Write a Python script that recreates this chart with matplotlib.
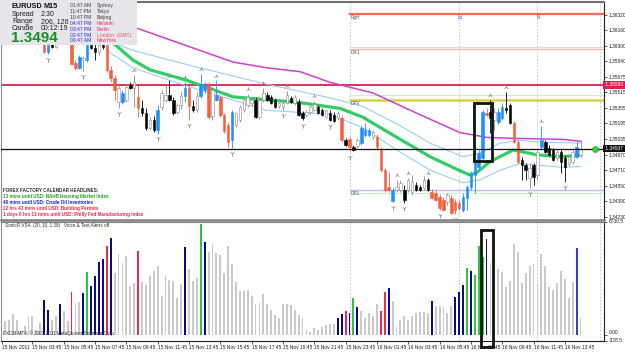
import matplotlib
matplotlib.use("Agg")
import matplotlib.pyplot as plt
from matplotlib.patches import Rectangle
import matplotlib.transforms as mtransforms

# ---------------- DATA ----------------
opens = [1.3621, 1.3618, 1.3614, 1.3619, 1.3621, 1.3620, 1.3616, 1.3610, 1.3614, 1.3612,
         1.3606, 1.3593, 1.3602, 1.3599, 1.3606, 1.3616, 1.3611, 1.3608, 1.3582, 1.3577,
         1.3585, 1.3585, 1.3601, 1.3598, 1.3593, 1.3601, 1.3601, 1.3575, 1.3566, 1.3542,
         1.3542, 1.3544, 1.3559, 1.3556, 1.3547, 1.3535, 1.3530, 1.3515, 1.3523, 1.3513,
         1.3536, 1.3544, 1.3549, 1.3544, 1.3531, 1.3539, 1.3548, 1.3556, 1.3537, 1.3533,
         1.3548, 1.3554, 1.3559, 1.3527, 1.3544, 1.3547, 1.3528, 1.3518, 1.3502, 1.3518,
         1.3523, 1.3533, 1.3539, 1.3541, 1.3544, 1.3526, 1.3544, 1.3549, 1.3547, 1.3544,
         1.3538, 1.3536, 1.3541, 1.3546, 1.3541, 1.3542, 1.3530, 1.3528, 1.3531, 1.3533,
         1.3536, 1.3533, 1.3526, 1.3530, 1.3528, 1.3525, 1.3525, 1.3502, 1.3503, 1.3495,
         1.3496, 1.3499, 1.3508, 1.3508, 1.3505, 1.3505, 1.3492, 1.3471, 1.3454, 1.3439,
         1.3451, 1.3451, 1.3451, 1.3451, 1.3449, 1.3456, 1.3454, 1.3453, 1.3461, 1.3449,
         1.3448, 1.3443, 1.3440, 1.3438, 1.3442, 1.3438, 1.3437, 1.3430, 1.3442, 1.3454,
         1.3466, 1.3474, 1.3484, 1.3530, 1.3531, 1.3523, 1.3521, 1.3525, 1.3535, 1.3539,
         1.3520, 1.3500, 1.3482, 1.3476, 1.3463, 1.3476, 1.3466, 1.3495, 1.3500, 1.3494,
         1.3492, 1.3484, 1.3490, 1.3484, 1.3477, 1.3480, 1.3485, 1.3487]
highs = [1.3627, 1.3624, 1.3621, 1.3624, 1.3627, 1.3624, 1.3621, 1.3616, 1.3618, 1.3616,
         1.3610, 1.3608, 1.3606, 1.3608, 1.3618, 1.3620, 1.3616, 1.3611, 1.3585, 1.3590,
         1.3589, 1.3604, 1.3606, 1.3604, 1.3606, 1.3608, 1.3606, 1.3579, 1.3570, 1.3558,
         1.3554, 1.3560, 1.3562, 1.3570, 1.3559, 1.3544, 1.3535, 1.3526, 1.3527, 1.3539,
         1.3554, 1.3559, 1.3564, 1.3547, 1.3541, 1.3552, 1.3562, 1.3558, 1.3544, 1.3552,
         1.3571, 1.3562, 1.3562, 1.3557, 1.3564, 1.3549, 1.3530, 1.3521, 1.3533, 1.3531,
         1.3539, 1.3546, 1.3550, 1.3546, 1.3547, 1.3546, 1.3556, 1.3552, 1.3549, 1.3546,
         1.3542, 1.3542, 1.3553, 1.3548, 1.3549, 1.3545, 1.3532, 1.3533, 1.3539, 1.3543,
         1.3539, 1.3535, 1.3534, 1.3533, 1.3531, 1.3532, 1.3528, 1.3504, 1.3505, 1.3497,
         1.3504, 1.3517, 1.3520, 1.3515, 1.3513, 1.3509, 1.3495, 1.3473, 1.3469, 1.3453,
         1.3461, 1.3461, 1.3456, 1.3463, 1.3466, 1.3459, 1.3456, 1.3465, 1.3463, 1.3452,
         1.3451, 1.3446, 1.3443, 1.3447, 1.3445, 1.3441, 1.3440, 1.3447, 1.3456, 1.3470,
         1.3482, 1.3492, 1.3533, 1.3535, 1.3544, 1.3535, 1.3535, 1.3541, 1.3552, 1.3541,
         1.3522, 1.3502, 1.3485, 1.3479, 1.3479, 1.3479, 1.3492, 1.3517, 1.3502, 1.3497,
         1.3494, 1.3492, 1.3494, 1.3487, 1.3487, 1.3492, 1.3500, 1.3502]
lows = [1.3616, 1.3611, 1.3610, 1.3616, 1.3618, 1.3614, 1.3608, 1.3606, 1.3610, 1.3604,
        1.3592, 1.3591, 1.3598, 1.3598, 1.3604, 1.3608, 1.3604, 1.3580, 1.3575, 1.3576,
        1.3574, 1.3583, 1.3596, 1.3585, 1.3590, 1.3596, 1.3573, 1.3562, 1.3544, 1.3535,
        1.3540, 1.3542, 1.3555, 1.3536, 1.3526, 1.3527, 1.3513, 1.3514, 1.3511, 1.3509,
        1.3533, 1.3542, 1.3543, 1.3528, 1.3529, 1.3534, 1.3542, 1.3523, 1.3531, 1.3531,
        1.3546, 1.3551, 1.3524, 1.3523, 1.3543, 1.3526, 1.3510, 1.3495, 1.3494, 1.3516,
        1.3521, 1.3531, 1.3536, 1.3538, 1.3525, 1.3524, 1.3542, 1.3543, 1.3540, 1.3535,
        1.3535, 1.3533, 1.3540, 1.3541, 1.3539, 1.3527, 1.3523, 1.3526, 1.3529, 1.3532,
        1.3529, 1.3527, 1.3525, 1.3522, 1.3521, 1.3523, 1.3500, 1.3496, 1.3490, 1.3491,
        1.3494, 1.3497, 1.3505, 1.3505, 1.3503, 1.3492, 1.3469, 1.3449, 1.3449, 1.3438,
        1.3449, 1.3449, 1.3437, 1.3449, 1.3445, 1.3450, 1.3450, 1.3451, 1.3450, 1.3441,
        1.3439, 1.3430, 1.3429, 1.3435, 1.3426, 1.3426, 1.3430, 1.3428, 1.3430, 1.3451,
        1.3448, 1.3471, 1.3482, 1.3527, 1.3510, 1.3513, 1.3519, 1.3523, 1.3530, 1.3519,
        1.3499, 1.3479, 1.3461, 1.3461, 1.3453, 1.3456, 1.3461, 1.3493, 1.3489, 1.3486,
        1.3481, 1.3482, 1.3468, 1.3459, 1.3475, 1.3477, 1.3484, 1.3485]
closes = [1.3618, 1.3614, 1.3619, 1.3621, 1.3620, 1.3616, 1.3610, 1.3614, 1.3612, 1.3606,
          1.3593, 1.3604, 1.3599, 1.3606, 1.3616, 1.3611, 1.3608, 1.3581, 1.3577, 1.3588,
          1.3587, 1.3601, 1.3598, 1.3593, 1.3601, 1.3599, 1.3575, 1.3566, 1.3554, 1.3556,
          1.3551, 1.3557, 1.3556, 1.3562, 1.3535, 1.3530, 1.3515, 1.3523, 1.3513, 1.3533,
          1.3551, 1.3549, 1.3544, 1.3530, 1.3539, 1.3548, 1.3556, 1.3537, 1.3533, 1.3548,
          1.3560, 1.3559, 1.3526, 1.3554, 1.3549, 1.3528, 1.3512, 1.3500, 1.3531, 1.3530,
          1.3536, 1.3544, 1.3547, 1.3544, 1.3526, 1.3544, 1.3551, 1.3544, 1.3541, 1.3536,
          1.3541, 1.3541, 1.3549, 1.3542, 1.3547, 1.3528, 1.3525, 1.3531, 1.3536, 1.3540,
          1.3530, 1.3528, 1.3533, 1.3523, 1.3522, 1.3530, 1.3502, 1.3497, 1.3495, 1.3492,
          1.3502, 1.3515, 1.3513, 1.3513, 1.3511, 1.3495, 1.3471, 1.3451, 1.3451, 1.3451,
          1.3454, 1.3458, 1.3440, 1.3461, 1.3459, 1.3451, 1.3451, 1.3461, 1.3451, 1.3442,
          1.3440, 1.3432, 1.3430, 1.3445, 1.3427, 1.3430, 1.3432, 1.3443, 1.3454, 1.3468,
          1.3480, 1.3489, 1.3531, 1.3528, 1.3525, 1.3531, 1.3531, 1.3536, 1.3533, 1.3520,
          1.3500, 1.3480, 1.3476, 1.3471, 1.3473, 1.3464, 1.3490, 1.3502, 1.3490, 1.3487,
          1.3482, 1.3490, 1.3480, 1.3474, 1.3485, 1.3490, 1.3495, 1.3493]
# candle style: k=black (bear), w=white (bull), b=blue (wide bull), r=red (wide bear)
candle_kind = list("kkwwkkkwkk" "rbkwbkkrrb" "wbkkwkrrrw" "bwkwrkkwkb" "wwkkwwbrkw"
                   "bbrwbrrrbw" "wwwwkwwkkk" "wwwkwkkwww" "kkwkkwrkrk" "wbbbwrrrrb"
                   "wwkwwkkwkr" "rrrwrrrbbb" "bbbrkwbbkk" "rrkkwkwbkk" "kwkkwwbw")

fractal_up = [33, 42, 46, 50, 54, 62, 66, 72, 79, 92, 100, 103, 108, 124, 128, 137]
fractal_dn = [11, 20, 29, 39, 47, 58, 71, 76, 83, 88, 99, 102, 111, 115, 134, 143]

# moving averages read at sample bars
ma_slow_x = [14, 24.3, 33.7, 49.8, 58.2, 66.9, 75.4, 83, 94, 105.2, 116.2, 123.1, 129.8, 142.5, 146.9]
ma_slow_y = [1.3645, 1.3632, 1.3618, 1.3595, 1.3583, 1.3577, 1.3573, 1.3562, 1.3551, 1.3530,
             1.3510, 1.3505, 1.3504, 1.3503, 1.3501]
ma_mid_x = [22, 28.1, 32.7, 37, 46.5, 58.2, 66.9, 75.4, 85.6, 91.4, 100.1, 108.6, 114.9, 118.8,
            120.6, 123.9, 129.8, 135.9, 142.5, 146.9]
ma_mid_y = [1.3616, 1.3601, 1.3585, 1.3575, 1.3564, 1.3547, 1.3544, 1.3541, 1.3535, 1.3526,
            1.3505, 1.3485, 1.3473, 1.3466, 1.3469, 1.3480, 1.3492, 1.3487, 1.3485, 1.3487]
band_up_x = [24.3, 32.7, 42.1, 49.8, 66.9, 83, 91.4, 100.1, 108.6, 117, 121.3, 126.4, 131.5, 137.4, 146.9]
band_up_y = [1.3608, 1.3595, 1.3585, 1.3577, 1.3560, 1.3546, 1.3537, 1.3519, 1.3499, 1.3485,
             1.3489, 1.3499, 1.3502, 1.3500, 1.3499]
band_dn_x = [26, 32.7, 42.1, 49.8, 66.9, 83, 91.4, 100.1, 108.6, 117, 121.3, 126.4, 131.5, 142.5, 146.9]
band_dn_y = [1.3595, 1.3577, 1.3564, 1.3554, 1.3533, 1.3529, 1.3515, 1.3492, 1.3471, 1.3458,
             1.3461, 1.3471, 1.3478, 1.3474, 1.3475]

# horizontal levels
level_rgh = 1.36327
level_dr1 = 1.35965
level_red = 1.35593
level_green_hi = 1.35489
level_dpv = 1.35440
level_close = 1.34933
level_ds1 = 1.34506
level_green_lo = 1.34475
session_bars = [88, 116, 136, 152]     # day start, London, NY, later
current_bar_dot = 150.7

highlight_bars = (119.8, 124.4)
highlight_price = (1.3481, 1.3541)
vsa_highlight_bars = (121.6, 124.7)

# volume (SonicR VSA)
vsa_values = [800, 895, 1236, 895, 221, 519, 1116, 1116, 299, 698,
              2054, 1493, 895, 1116, 1851, 1415, 818, 2549, 1892, 1934,
              2489, 3725, 2889, 3486, 4322, 4478, 5277, 5773, 3683, 4776,
              4280, 4680, 2925, 3086, 4979, 3128, 2985, 3522, 3785, 4083,
              2292, 3486, 3284, 3224, 2191, 3045, 5218, 3922, 3224, 3385,
              6567, 5516, 4919, 5373, 4877, 4740, 3683, 5277, 4239, 3128,
              2591, 2591, 2651, 2328, 1851, 1892, 2430, 1851, 1457, 1194,
              997, 1833, 1833, 1791, 1493, 1194, 997, 299, 203, 400,
              299, 501, 597, 639, 639, 997, 1254, 1433, 1295, 2191,
              1654, 1397, 997, 1295, 1098, 1851, 1415, 2531, 2770, 1994,
              501, 895, 1098, 895, 1098, 1295, 1355, 1355, 1295, 1994,
              1731, 1695, 1636, 1295, 1695, 2251, 2531, 2985, 3982, 3785,
              3582, 5277, 4650, 5672, 4280, 3982, 3922, 3725, 2848, 3188,
              5373, 4919, 3086, 3683, 4083, 4221, 3027, 4776, 4119, 2848,
              2687, 3086, 3785, 3325, 2191, 3128, 5176, 997]
vsa_kind = list("gggggggggg" "nnggnggrgg" "nGnnnnrngg" "ggggrggggg" "ggggggnggg"
                "Gngggggggg" "gggggggggg" "gggggggggg" "gggggnnrnG" "ngggggrrng"
                "gggggggggn" "gggggnnnGn" "GGGngggggg" "gggggggggg" "ggggggbg")

price_ticks = [1.36320, 1.36160, 1.36000, 1.35840, 1.35675, 1.35515, 1.35355, 1.35195,
               1.35035, 1.34870, 1.34710, 1.34550, 1.34390, 1.34230]
time_tick_bars = [-0.8] + [7 + 8 * j for j in range(18)]
time_labels = ["15 Nov 2011", "15 Nov 03:45", "15 Nov 05:45", "15 Nov 07:45", "15 Nov 09:45",
               "15 Nov 11:45", "15 Nov 13:45", "15 Nov 15:45", "15 Nov 17:45", "15 Nov 19:45",
               "15 Nov 21:45", "15 Nov 23:45", "16 Nov 01:45", "16 Nov 03:45", "16 Nov 05:45",
               "16 Nov 07:45", "16 Nov 09:45", "16 Nov 11:45", "16 Nov 13:45"]

news_lines = [("13 mins until USD: NAHB Housing Market Index", "#22A022"),
              ("40 mins until USD: Crude Oil Inventories", "#1C1CE0"),
              ("22 hrs 43 mins until USD: Building Permits", "#F02848"),
              ("1 days 0 hrs 13 mins until USD: Philly Fed Manufacturing Index", "#F02848")]
clock_rows = [("01:47 AM", "Sydney", "#404040", "#404040"),
              ("11:47 PM", "Tokyo", "#404040", "#404040"),
              ("10:47 PM", "Beijing", "#404040", "#404040"),
              ("04:47 PM", "Helsinki", "#3030D0", "#F03060"),
              ("03:47 PM", "Berlin", "#3030D0", "#F03060"),
              ("02:47 PM", "London  (GMT)", "#3030D0", "#F05060"),
              ("09:47 AM", "NewYork", "#3030D0", "#F03060")]

# ---------------- FIGURE ----------------
W, H = 625, 352
FONT = "Liberation Sans"
fig = plt.figure(figsize=(W / 100, H / 100), dpi=100)
fig.patch.set_facecolor("white")

def fx(x):
    return x / W

def fy(y):
    return 1 - y / H

ax = fig.add_axes([fx(1), fy(219.5), fx(603), 217.5 / H])
axv = fig.add_axes([fx(1), fy(340.5), fx(603), 119 / H])

XL = (-1.02, 153.0)
ax.set_xlim(*XL)
ax.set_ylim(1.34201, 1.36451)
axv.set_xlim(*XL)
axv.set_ylim(-328.5, 6730.5)

for a in (ax, axv):
    a.set_facecolor("white")
    for s in a.spines.values():
        s.set_linewidth(0.8)
        s.set_color("#202020")
ax.spines["top"].set_color("#707070")
ax.spines["top"].set_linewidth(1.5)
ax.spines["bottom"].set_color("#808080")
ax.spines["bottom"].set_linewidth(1.8)
ax.spines["left"].set_color("#909090")
axv.spines["left"].set_color("#909090")
axv.spines["top"].set_color("#808080")

# session separators
for a in (ax, axv):
    for sb in session_bars:
        a.axvline(sb, color="#C4C4CC", lw=0.6, ls=(0, (2, 2)), zorder=1)

# horizontal levels
xs_today = [session_bars[0], XL[1]]
ax.plot(xs_today, [level_rgh] * 2, color="#F86A50", lw=1.6, zorder=2)
ax.plot(xs_today, [level_dr1 + 0.00018] * 2, color="#D8D8D8", lw=0.6, zorder=2)
ax.plot(xs_today, [level_dr1] * 2, color="#F6B8B0", lw=1.0, zorder=2)
ax.axhline(level_red, color="#E0204C", lw=1.3, zorder=2)
ax.plot(xs_today, [level_green_hi] * 2, color="#CDEFCD", lw=0.8, zorder=2)
ax.plot(xs_today, [level_dpv] * 2, color="#D6D24A", lw=1.8, zorder=2)
ax.plot(xs_today, [level_ds1] * 2, color="#BCBCF0", lw=1.0, zorder=2)
ax.plot(xs_today, [level_green_lo] * 2, color="#CDEFCD", lw=0.8, zorder=2)
ax.axhline(level_close, color="#101010", lw=0.9, zorder=6)

lbl = dict(fontsize=3.4, family=FONT, va="top", ha="left", zorder=8)
ax.text(session_bars[0] + 0.3, level_rgh - 0.00012, "RgH", color="#505070", **lbl)
ax.text(session_bars[1] - 0.3, level_rgh - 0.00012, "Lo", color="#8030C0", **lbl)
ax.text(session_bars[2] - 0.3, level_rgh - 0.00012, "N", color="#8030C0", **lbl)
ax.text(session_bars[0] + 0.3, level_dr1 - 0.00012, "DR1", color="#505060", **lbl)
ax.text(session_bars[0] + 0.3, level_dpv - 0.00014, "DPV", color="#505060", **lbl)
ax.text(session_bars[0] + 0.3, level_ds1 - 0.00012, "DS1", color="#505060", **lbl)

# moving averages
ax.plot(ma_slow_x, ma_slow_y, color="#D040D0", lw=1.1, zorder=3)
ax.plot(band_up_x, band_up_y, color="#8CCBF5", lw=0.7, zorder=3)
ax.plot(band_dn_x, band_dn_y, color="#8CCBF5", lw=0.7, zorder=3)
ax.plot(ma_mid_x, ma_mid_y, color="#33CC66", lw=2.3, zorder=3, solid_capstyle="round")

# candles
fill = {"k": "#000000", "w": "#FFFFFF", "b": "#1E8FFF", "r": "#F5603E"}
edge = {"k": "#000000", "w": "#8A8A8A", "b": "#1E8FFF", "r": "#F5603E"}
for i, (o, h, l, c, kd) in enumerate(zip(opens, highs, lows, closes, candle_kind)):
    ax.plot([i, i], [l, h], color=edge[kd], lw=0.6, zorder=4, solid_capstyle="butt")
    lo_b, hi_b = min(o, c), max(o, c)
    ax.add_patch(Rectangle((i - 0.32, lo_b), 0.64, max(hi_b - lo_b, 0.00004),
                           facecolor=fill[kd], edgecolor=edge[kd], lw=0.4, zorder=5))

# fractals
ax.plot(fractal_up, [highs[i] + 0.0005 for i in fractal_up], ls="none", marker="2",
        color="#8C8C8C", ms=3.6, mew=0.6, zorder=5)
ax.plot(fractal_dn, [lows[i] - 0.0005 for i in fractal_dn], ls="none", marker="1",
        color="#8C8C8C", ms=3.6, mew=0.6, zorder=5)

# current price dot
ax.plot([current_bar_dot], [level_close], marker="o", ms=4.2, color="#22E022",
        mec="#109010", mew=0.4, zorder=9, clip_on=False)

# highlight box
ax.add_patch(Rectangle((highlight_bars[0], highlight_price[0]), highlight_bars[1] - highlight_bars[0],
                       highlight_price[1] - highlight_price[0], fill=False, ec="#0C140C",
                       lw=2.0, zorder=10))

# y axis labels
ax.yaxis.tick_right()
ax.set_yticks(price_ticks)
ax.set_yticklabels([f"{p:.5f}" for p in price_ticks])
ax.tick_params(axis="y", length=2, width=0.5, pad=1.2, labelsize=3.5, colors="#202020")
ax.set_xticks([])
for t in ax.get_yticklabels():
    t.set_family(FONT)
trans = mtransforms.blended_transform_factory(ax.transAxes, ax.transData)
ax.text(1.0, level_red, " 1.35593  ", transform=trans, fontsize=3.5, family=FONT,
        color="white", va="center", ha="left", zorder=12, clip_on=False,
        bbox=dict(boxstyle="square,pad=0.25", fc="#E0204C", ec="none"))
ax.text(1.0, level_close, " 1.34937  ", transform=trans, fontsize=3.5, family=FONT,
        color="white", va="center", ha="left", zorder=12, clip_on=False,
        bbox=dict(boxstyle="square,pad=0.25", fc="#101010", ec="none"))

# ---------------- VSA PANEL ----------------
vcol = {"g": "#CACACA", "n": "#0A0A86", "r": "#EE2A50", "G": "#2EC44A", "b": "#3C3CD0"}
axv.bar(range(len(vsa_values)), vsa_values, width=0.48,
        color=[vcol[k] for k in vsa_kind], zorder=3)
axv.add_patch(Rectangle((vsa_highlight_bars[0], -700), vsa_highlight_bars[1] - vsa_highlight_bars[0],
                        6900, fill=False, ec="#0C140C", lw=2.0, zorder=10, clip_on=False))
axv.yaxis.tick_right()
axv.set_yticks([6730.5, 0.0, -328.5])
axv.set_yticklabels(["6730.5", "0.00", "-328.5"])
axv.tick_params(axis="y", length=2, width=0.5, pad=1.2, labelsize=3.5, colors="#202020")
axv.get_yticklabels()[1].set_va("bottom")
for t in axv.get_yticklabels():
    t.set_family(FONT)
axv.set_xticks(time_tick_bars)
axv.set_xticklabels(time_labels)
axv.tick_params(axis="x", length=2, width=0.5, pad=1.0, labelsize=3.5, colors="#202020")
for t in axv.get_xticklabels():
    t.set_ha("left")
    t.set_family(FONT)
axv.text(0.006, 0.985, "SonicR VSA  (20, 10, 1.38)   Voice & Text Alerts off.", transform=axv.transAxes,
         fontsize=3.3, family=FONT, color="#303030", va="top", ha="left", zorder=12)
axv.text(0.004, 0.035, "FXCM MT4, \u00a9 2001-2011 MetaQuotes Software Corp.", transform=axv.transAxes,
         fontsize=3.3, family=FONT, color="#303030", va="bottom", ha="left", zorder=12)

# ---------------- TEXT OVERLAYS ----------------
fig.text(fx(3), fy(190), "FOREX FACTORY CALENDAR HEADLINES:", fontsize=3.3, family=FONT,
         weight="bold", color="#303030", va="center", ha="left", zorder=20)
for j, (txt, col) in enumerate(news_lines):
    fig.text(fx(3), fy(196.5 + 6 * j), txt, fontsize=3.3, family=FONT, weight="bold",
             color=col, va="center", ha="left", zorder=20)

box = Rectangle((0, fy(45)), fx(137), 45 / H, transform=fig.transFigure,
                facecolor="#E5E5EA", edgecolor="none", zorder=15)
fig.add_artist(box)
fig.text(fx(12), fy(6), "EURUSD", fontsize=5.2, family=FONT, weight="bold", color="#101010",
         va="center", zorder=20)
fig.text(fx(44), fy(6), "M15", fontsize=5.2, family=FONT, weight="bold", color="#101010",
         va="center", zorder=20)
for j, (k, v) in enumerate([("Spread", "2.30"), ("Range", "206, 126"), ("Candle", "00:12:19")]):
    fig.text(fx(12), fy(14.5 + 6.8 * j), k, fontsize=5.0, family=FONT, color="#202020",
             va="center", zorder=20)
    fig.text(fx(41), fy(14.5 + 6.8 * j), v, fontsize=5.0, family=FONT, color="#202020",
             va="center", zorder=20)
fig.text(fx(11.5), fy(38.5), "1.3494", fontsize=11, family=FONT, weight="bold", color="#1F8C2A",
         va="center", zorder=20)
for j, (t, city, ct, cc) in enumerate(clock_rows):
    fig.text(fx(70), fy(5.8 + 5.85 * j), t, fontsize=3.6, family=FONT, color=ct, va="center", zorder=20)
    fig.text(fx(97), fy(5.8 + 5.85 * j), city, fontsize=3.6, family=FONT, color=cc, va="center", zorder=20)

fig.savefig("out.png", dpi=100, facecolor="white")
